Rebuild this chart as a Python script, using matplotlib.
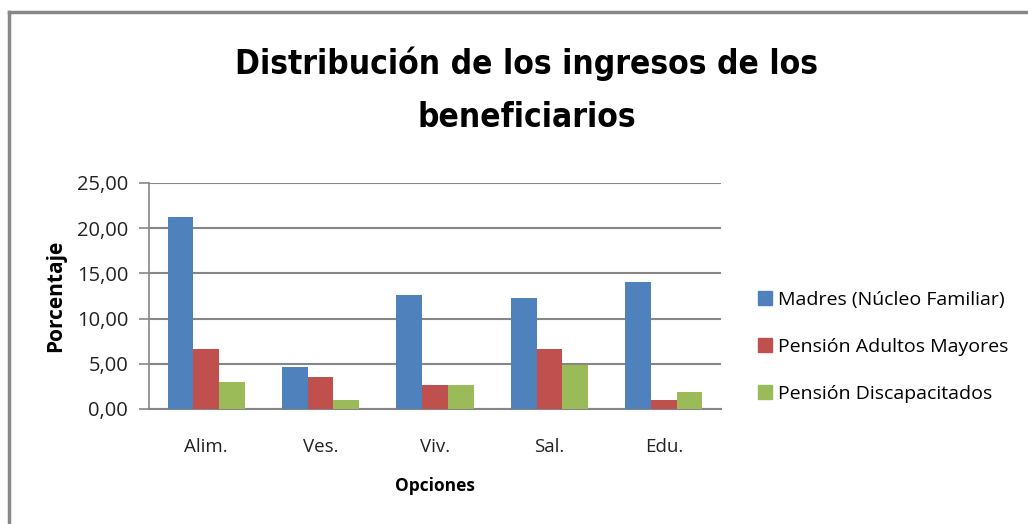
import numpy as np
import matplotlib.pyplot as plt
from matplotlib.lines import Line2D
from matplotlib.patches import Patch

# datos
categorias = ['Alim.', 'Ves.', 'Viv.', 'Sal.', 'Edu.']
madres = [21.2, 4.65, 12.6, 12.3, 14.0]
adultos = [6.65, 3.55, 2.65, 6.65, 1.0]
discap = [3.0, 1.0, 2.65, 4.9, 1.85]
series = ['Madres (Núcleo Familiar)', 'Pensión Adultos Mayores', 'Pensión Discapacitados']
colores = ['#4F81BD', '#C0504D', '#9BBB59']

plt.rcParams['font.family'] = ['Open Sans', 'DejaVu Sans']

fig = plt.figure(figsize=(10.28, 5.24), dpi=100)
ax = fig.add_axes([0.1449, 0.2195, 0.5565, 0.4313])

x = np.arange(len(categorias))
w = 0.225
for i, (vals, col) in enumerate(zip([madres, adultos, discap], colores)):
    ax.bar(x + (i - 1) * w, vals, width=w, color=col, zorder=3)

ax.set_xlim(-0.5, 4.5)
ax.set_ylim(0, 25)
ax.set_yticks(np.arange(0, 26, 5))
ax.set_yticklabels([('%.2f' % v).replace('.', ',') for v in np.arange(0, 26, 5)],
                   fontsize=14.5, color='#222222')
ax.set_xticks(x)
ax.set_xticklabels(categorias, fontsize=13.5, color='#222222')
ax.tick_params(axis='x', length=0, pad=21)
ax.tick_params(axis='y', length=7, width=1.2, color='#868686', pad=8)
ax.grid(axis='y', color='#868686', linewidth=1.5, zorder=0)
for s in ['top', 'right']:
    ax.spines[s].set_visible(False)
ax.spines['left'].set_color('#868686')
ax.spines['left'].set_linewidth(1.2)
ax.spines['bottom'].set_color('#868686')
ax.spines['bottom'].set_linewidth(1.5)

ax.set_xlabel('Opciones', fontsize=12.5, fontweight='bold', labelpad=15)
ax.set_ylabel('Porcentaje', fontsize=15, fontweight='bold', labelpad=8)

fig.text(0.512, 0.828, 'Distribución de los ingresos de los\nbeneficiarios',
         ha='center', va='center', fontsize=24, fontweight='bold',
         family='DejaVu Sans', fontstretch='condensed', linespacing=1.75)

handles = [Patch(color=c) for c in colores]
fig.legend(handles, series, loc='center left', bbox_to_anchor=(0.72, 0.338),
           frameon=False, fontsize=14, handlelength=0.75, handleheight=0.75,
           handletextpad=0.3, labelspacing=1.5)

# borde del grafico
fig.add_artist(Line2D([0.009, 1], [0.977, 0.977], color='#888888', lw=2.5))
fig.add_artist(Line2D([0.009, 0.009], [0, 0.977], color='#888888', lw=2.5))

fig.savefig('out.png', dpi=100)
